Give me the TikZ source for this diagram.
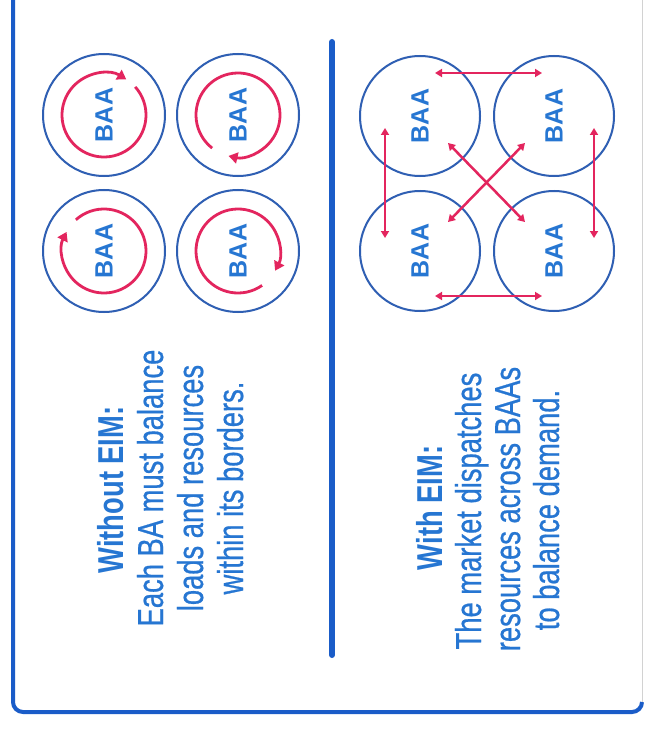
\documentclass[tikz,border=0pt]{standalone}
\usepackage{fontspec}
\setmainfont{Liberation Sans}
\newfontfamily\condfont[FakeStretch=0.76,UprightFeatures={FakeBold=0.6}]{Liberation Sans}
\usetikzlibrary{arrows.meta}
\definecolor{txtblue}{HTML}{2676D2}
\definecolor{ringblue}{HTML}{2F5FB3}
\definecolor{framblue}{HTML}{1A5CC8}
\definecolor{arrred}{HTML}{E3255E}
\begin{document}
\begin{tikzpicture}[x=1pt,y=1pt,
  ring/.style={circle,draw=ringblue,line width=2pt,minimum size=#1,inner sep=0pt},
  ring/.default=122pt,
  baa/.style={rotate=90,text=txtblue,font=\fontsize{25}{25}\selectfont\bfseries},
  loopring/.style={draw=arrred,line width=2.8pt,-{Triangle[length=9pt,width=11pt]}},
  link/.style={draw=arrred,line width=2.5pt,{Triangle[length=7pt,width=8pt]}-{Triangle[length=7pt,width=8pt]}},
  txtline/.style={rotate=90,anchor=base,text=txtblue,font=\condfont\fontsize{36}{40}\selectfont},
]
\useasboundingbox (0,0) rectangle (647,-730);
\fill[white] (0,0) rectangle (647,-730);

% frame
\draw[framblue,line width=4pt] (13,0) -- (13,-702) arc[start angle=180,end angle=270,radius=10] -- (632,-712) arc[start angle=-90,end angle=0,radius=10];
\draw[gray!35,line width=1pt] (642,-702) -- (642,0);

% divider
\draw[framblue,line width=6pt,line cap=round] (332,-42) -- (332,-655);

% left panel: rings
\node[ring,baa] (l1) at (104,-115) {BAA};
\node[ring,baa] (l2) at (238,-115) {BAA};
\node[ring,baa] (l3) at (104,-251) {BAA};
\node[ring,baa] (l4) at (238,-251) {BAA};

\draw[loopring] ([shift={(42:42)}]l1.center) arc[start angle=42,end angle=-302,radius=42];
\draw[loopring] ([shift={(232:42)}]l2.center) arc[start angle=232,end angle=-103,radius=42];
\draw[loopring] ([shift={(132:42)}]l3.center) arc[start angle=132,end angle=-207,radius=42];
\draw[loopring] ([shift={(305:42)}]l4.center) arc[start angle=305,end angle=-28,radius=42];

% right panel: rings
\node[ring=120pt,baa] (r1) at (420,-116) {BAA};
\node[ring=120pt,baa] (r2) at (554,-116) {BAA};
\node[ring=120pt,baa] (r3) at (420,-251) {BAA};
\node[ring=120pt,baa] (r4) at (554,-251) {BAA};

\coordinate (t1) at (435,-73);  \coordinate (t2) at (542,-73);
\coordinate (b1) at (435,-296); \coordinate (b2) at (542,-296);
\coordinate (v1) at (385,-128); \coordinate (v2) at (385,-238);
\coordinate (w1) at (594,-128); \coordinate (w2) at (594,-238);
\coordinate (d1) at (448,-143); \coordinate (d2) at (525,-222);
\coordinate (e1) at (525,-143); \coordinate (e2) at (448,-222);
\draw[link] (t1) -- (t2);
\draw[link] (b1) -- (b2);
\draw[link] (v1) -- (v2);
\draw[link] (w1) -- (w2);
\draw[link] (d1) -- (d2);
\draw[link] (e1) -- (e2);

% left text
\node[txtline] (lt1) at (123,-490) {\bfseries Without EIM:};
\node[txtline] (lt2) at (163,-488) {Each BA must balance};
\node[txtline] (lt3) at (203,-488) {loads and resources};
\node[txtline] (lt4) at (243,-488) {within its borders.};

% right text
\node[txtline] (rt1) at (442,-508) {\bfseries With EIM:};
\node[txtline] (rt2) at (481,-511) {The market dispatches};
\node[txtline] (rt3) at (520,-509) {resources across BAAs};
\node[txtline] (rt4) at (559,-510) {to balance demand.};
\end{tikzpicture}
\end{document}
